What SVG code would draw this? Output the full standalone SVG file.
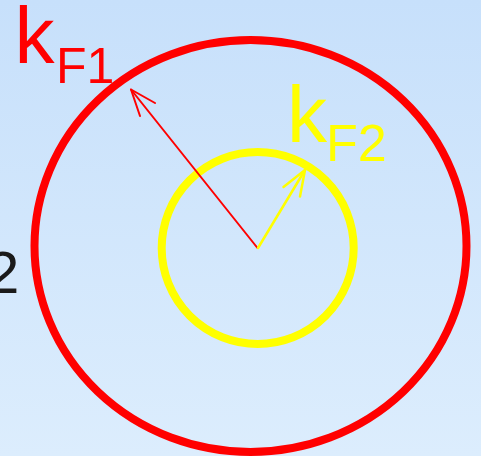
<svg xmlns="http://www.w3.org/2000/svg" width="481" height="456" viewBox="0 0 481 456">
<defs>
<linearGradient id="bg" x1="0" y1="0" x2="0" y2="1">
<stop offset="0" stop-color="#c7e0fb"/>
<stop offset="1" stop-color="#dcedfd"/>
</linearGradient>
<style>
.lbl{font-family:"Liberation Sans",Arial,sans-serif}
</style>
</defs>
<rect width="481" height="456" fill="url(#bg)"/>
<text class="lbl" x="-14" y="293" font-size="60" fill="#1a1a1a" font-weight="300">2</text>
<g id="outer-circle">
<ellipse cx="250.5" cy="246" rx="216" ry="206" fill="none" stroke="#ff0000" stroke-width="8"/>
</g>
<g id="inner-circle">
<ellipse cx="257.7" cy="248" rx="96" ry="96" fill="none" stroke="#ffff00" stroke-width="8"/>
</g>
<g id="connectors" fill="none" stroke-linecap="round" stroke-linejoin="round">
<g id="arrow-kF1" stroke="#ff0000" stroke-width="2">
<line x1="257.5" y1="248" x2="131" y2="89.5"/>
<polyline points="155,103 131,89.5 140,116"/>
</g>
<g id="arrow-kF2" stroke="#ffff00" stroke-width="2.5">
<line x1="258" y1="248" x2="305" y2="170"/>
<polyline points="283.5,187 305,170 300,196.5"/>
</g>
</g>
<g id="label-kF1" class="lbl" fill="#ff0000">
<text x="14.5" y="63" font-size="80">k</text>
<text x="56" y="83" font-size="50">F1</text>
</g>
<g id="label-kF2" class="lbl" fill="#ffff00">
<text x="287" y="142" font-size="80">k</text>
<text x="326" y="161" font-size="52">F2</text>
</g>
</svg>
